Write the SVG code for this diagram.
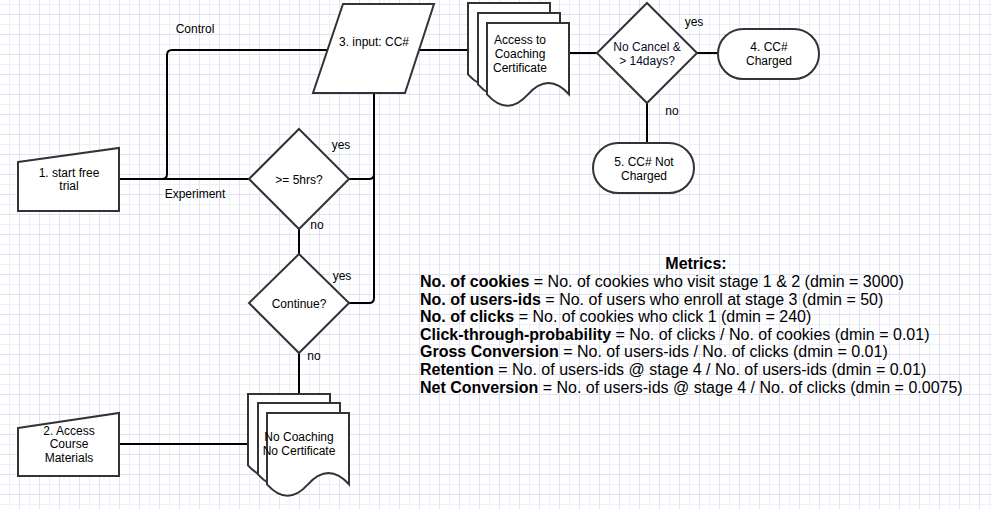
<svg xmlns="http://www.w3.org/2000/svg" xmlns:xlink="http://www.w3.org/1999/xlink" width="992" height="509" viewBox="0 0 992 509">
<style>
.shape{fill:#fff;stroke:#333;stroke-width:2;stroke-linejoin:miter}
.conn{fill:none;stroke:#000;stroke-width:2}
.t{font-family:"Liberation Sans",Arial,Helvetica,sans-serif;font-size:12px;fill:#000;text-anchor:middle}
.lbl{font-family:"Liberation Sans",Arial,Helvetica,sans-serif;font-size:12px;fill:#000}
.m{font-family:"Liberation Sans",Arial,Helvetica,sans-serif;font-size:16px;fill:#000}
.b{font-weight:bold}
</style>
<defs>
<pattern id="grid" patternUnits="userSpaceOnUse" x="0" y="0" width="20" height="20">
<path d="M9.5,0V20M0,4.5H20" stroke="#f0f0fb" stroke-width="1" fill="none"/>
<path d="M19.5,0V20M0,14.5H20" stroke="#e2e2f6" stroke-width="1" fill="none"/>
</pattern>
<path id="doc" d="M0,0 H82 V71.4 Q61.5,48.7 41,71.4 Q20.5,94.1 0,71.4 Z"/>
</defs>
<rect width="992" height="509" fill="#fff"/>
<rect width="992" height="509" fill="url(#grid)"/>

<g id="connectors">
<path class="conn" d="M119,179 H249"/>
<path class="conn" d="M119,179 H162 Q167,179 167,174 V55 Q167,50 172,50 H328"/>
<path class="conn" d="M418,50 H469"/>
<path class="conn" d="M569,53 H597"/>
<path class="conn" d="M697,53 H718"/>
<path class="conn" d="M647,103 V143"/>
<path class="conn" d="M349,179 H369 Q374,179 374,174"/>
<path class="conn" d="M349,303 H369 Q374,303 374,298 V93"/>
<path class="conn" d="M299,229 V254"/>
<path class="conn" d="M299,353 V394"/>
<path class="conn" d="M119,444 H249"/>
</g>

<g id="labels">
<text class="t" x="195" y="33">Control</text>
<text class="t" x="195" y="198">Experiment</text>
<text class="t" x="341" y="149">yes</text>
<text class="t" x="317" y="229">no</text>
<text class="t" x="342" y="280">yes</text>
<text class="t" x="314" y="360">no</text>
<text class="t" x="694" y="26">yes</text>
<text class="t" x="672" y="115">no</text>
</g>

<g id="n1">
<polygon class="shape" points="18,162 119,148 119,211 18,211"/>
<text class="t" x="69" y="176.5">1. start free</text>
<text class="t" x="69" y="190">trial</text>
</g>

<g id="n2">
<polygon class="shape" points="18,428 119,413 119,476 18,476"/>
<text class="t" x="69" y="434.5">2. Access</text>
<text class="t" x="69" y="447.5">Course</text>
<text class="t" x="69" y="462">Materials</text>
</g>

<g id="n3">
<polygon class="shape" points="343,4 434,4 405,93 313,93"/>
<text class="t" x="374" y="46">3. input: CC#</text>
</g>

<g id="d1">
<polygon class="shape" points="299,129 349,179 299,229 249,179"/>
<text class="t" x="299" y="183.5">&gt;= 5hrs?</text>
</g>

<g id="d2">
<polygon class="shape" points="299,254 349,303 299,353 249,303"/>
<text class="t" x="299" y="307.5">Continue?</text>
</g>

<g id="docA">
<use xlink:href="#doc" href="#doc" class="shape" x="468" y="3"/>
<use xlink:href="#doc" href="#doc" class="shape" x="478" y="13"/>
<use xlink:href="#doc" href="#doc" class="shape" x="487" y="23"/>
<text class="t" x="520" y="44">Access to</text>
<text class="t" x="520" y="58">Coaching</text>
<text class="t" x="520" y="72">Certificate</text>
</g>

<g id="docB">
<use xlink:href="#doc" href="#doc" class="shape" x="248" y="394"/>
<use xlink:href="#doc" href="#doc" class="shape" x="258" y="403"/>
<use xlink:href="#doc" href="#doc" class="shape" x="267" y="413"/>
<text class="t" x="299" y="441">No Coaching</text>
<text class="t" x="299" y="455">No Certificate</text>
</g>

<g id="d3">
<polygon class="shape" points="647,3 697,53 647,103 597,53"/>
<text class="t" x="647" y="51" style="fill:#0a0a2a">No Cancel &amp;</text>
<text class="t" x="647" y="65" style="fill:#0a0a2a">&gt; 14days?</text>
</g>

<g id="n4">
<rect class="shape" x="718" y="29" width="101" height="50" rx="25" ry="25"/>
<text class="t" x="769" y="51">4. CC#</text>
<text class="t" x="769" y="65">Charged</text>
</g>

<g id="n5">
<rect class="shape" x="593" y="143" width="101" height="50" rx="25" ry="25"/>
<text class="t" x="644" y="166">5. CC# Not</text>
<text class="t" x="644" y="180">Charged</text>
</g>

<g id="metrics">
<text class="m b" x="696" y="269" text-anchor="middle">Metrics:</text>
<text class="m" x="420" y="287"><tspan class="b">No. of cookies</tspan> = No. of cookies who visit stage 1 &amp; 2 (dmin = 3000)</text>
<text class="m" x="420" y="304.6"><tspan class="b">No. of users-ids</tspan> = No. of users who enroll at stage 3 (dmin = 50)</text>
<text class="m" x="420" y="322.2"><tspan class="b">No. of clicks</tspan> = No. of cookies who click 1 (dmin = 240)</text>
<text class="m" x="420" y="339.8"><tspan class="b">Click-through-probability</tspan> = No. of clicks / No. of cookies (dmin = 0.01)</text>
<text class="m" x="420" y="357.4"><tspan class="b">Gross Conversion</tspan> = No. of users-ids / No. of clicks (dmin = 0.01)</text>
<text class="m" x="420" y="375"><tspan class="b">Retention</tspan> = No. of users-ids @ stage 4 / No. of users-ids (dmin = 0.01)</text>
<text class="m" x="420" y="392.6"><tspan class="b">Net Conversion</tspan> = No. of users-ids @ stage 4 / No. of clicks (dmin = 0.0075)</text>
</g>
</svg>
